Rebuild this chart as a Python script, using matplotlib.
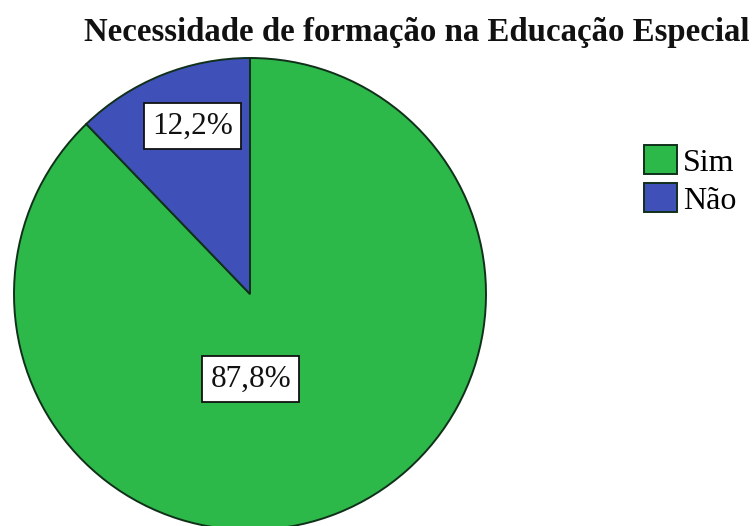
import matplotlib.pyplot as plt

plt.rcParams['font.family'] = ['Liberation Serif', 'DejaVu Serif']

# 数据
categorias = ['Sim', 'Não']
percentagens = [87.8, 12.2]
cores = ['#2db84a', '#3f51b8']
titulo = 'Necessidade de formação na Educação Especial'

fig = plt.figure(figsize=(7.55, 5.26), dpi=100)
fig.patch.set_facecolor('white')

# 饼图区域（像素定位）
W, H = 755, 526
ax = fig.add_axes([14 / W, -4 / H, 472 / W, 472 / H])

wedges, _ = ax.pie(percentagens, colors=cores, startangle=90, counterclock=False,
                   radius=1.0, wedgeprops=dict(edgecolor='#10301a', linewidth=1.4))
ax.set_xlim(-1, 1)
ax.set_ylim(-1, 1)
ax.set_aspect('equal')
ax.axis('off')

# 百分比标签
label_pos = [(0.004, -0.36), (-0.244, 0.712)]
for (x, y), v in zip(label_pos, percentagens):
    txt = f'{v:.1f}%'.replace('.', ',')
    ax.text(x, y, txt, ha='center', va='center', fontsize=22.5, color='#111111',
            bbox=dict(boxstyle='square,pad=0.26', facecolor='white',
                      edgecolor='#111111', linewidth=1.3))

fig.text(417 / W, 1 - 32 / H, titulo, ha='center', va='center', fontsize=23.7,
         fontweight='bold', color='#111111')

leg = fig.legend(wedges, categorias, loc='upper left', bbox_to_anchor=(644 / W, 1 - 145 / H),
                 frameon=False, fontsize=23, handlelength=1.03, handleheight=1.03,
                 handletextpad=0.2, labelspacing=0.18, borderpad=0, borderaxespad=0)

fig.savefig('out.png', dpi=100)
